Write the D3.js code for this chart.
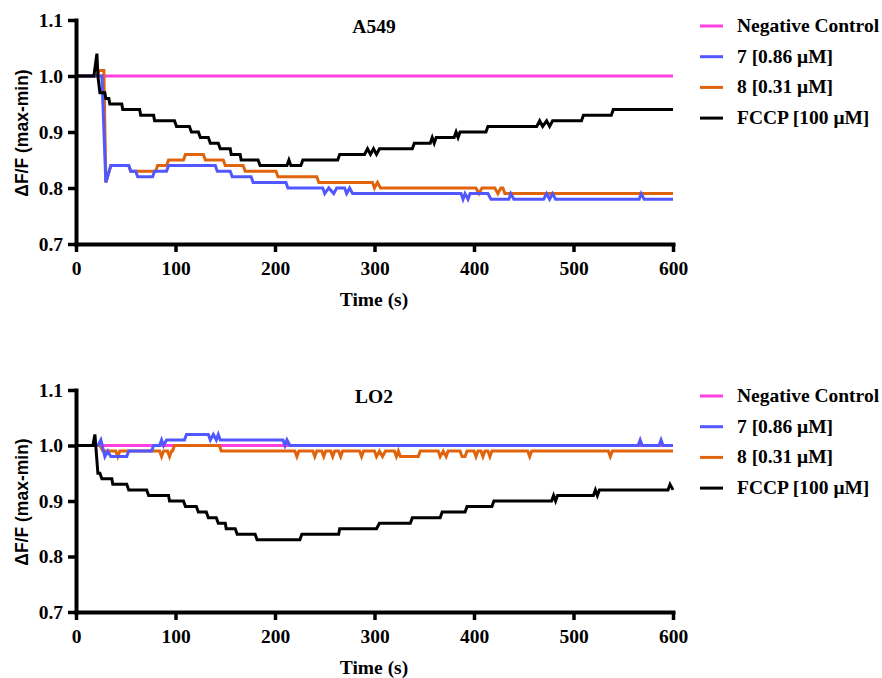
<!DOCTYPE html>
<html lang="en">
<head>
    <meta charset="UTF-8">
    <title>Delta F/F over time - A549 and LO2</title>
    <script src="https://d3js.org/d3.v7.min.js"></script>
    <style>
        body { margin: 0; background: #fff; }
        .tick text, .legend text, .title {
            font-family: "Liberation Serif", "Times New Roman", serif;
            font-weight: bold;
            font-size: 19.5px;
            fill: #000;
        }
        .ylabel {
            font-family: "Liberation Sans", Arial, sans-serif;
            font-weight: bold;
            font-size: 17.5px;
        }
        .series { fill: none; stroke-width: 3; stroke-linejoin: miter; }
    </style>
</head>
<body>
    <svg width="882" height="678"></svg>

    <script>
        // tick values and labels
        const timeTicks = [0, 100, 200, 300, 400, 500, 600];
        const yTicks = [0.7, 0.8, 0.9, 1.0, 1.1];
        const seriesNames = ["Negative Control", "7 [0.86 \u03bcM]", "8 [0.31 \u03bcM]", "FCCP [100 \u03bcM]"];
        const seriesColors = ["#ff40e0", "#5258ff", "#e0640c", "#000000"];

        // A549 panel, [time (s), dF/F]
        const a549Neg = [[0, 1.00], [600, 1.00]];
        const a549C7 = [[0, 1.00], [26, 1.00], [30, 0.81], [35, 0.84], [53, 0.84], [55, 0.83], [60, 0.83], [62, 0.82],
            [77, 0.82], [79, 0.83], [91, 0.83], [93, 0.84], [140, 0.84], [142, 0.83], [155, 0.83], [157, 0.82],
            [176, 0.82], [178, 0.81], [211, 0.81], [213, 0.80], [248, 0.80], [250, 0.79], [254, 0.80], [259, 0.79],
            [262, 0.80], [270, 0.80], [272, 0.79], [275, 0.80], [278, 0.79], [387, 0.79], [389, 0.78], [391, 0.79],
            [394, 0.78], [396, 0.79], [414, 0.79], [417, 0.78], [435, 0.78], [437, 0.79], [440, 0.78], [470, 0.78],
            [473, 0.79], [476, 0.78], [479, 0.79], [482, 0.78], [566, 0.78], [568, 0.79], [571, 0.78], [600, 0.78]];
        const a549C8 = [[0, 1.00], [22, 1.00], [23, 1.01], [28, 1.01], [30, 0.81], [35, 0.84], [53, 0.84], [55, 0.83],
            [80, 0.83], [82, 0.84], [91, 0.84], [93, 0.85], [108, 0.85], [110, 0.86], [128, 0.86], [130, 0.85],
            [148, 0.85], [150, 0.84], [168, 0.84], [170, 0.83], [201, 0.83], [203, 0.82], [242, 0.82], [244, 0.81],
            [298, 0.81], [300, 0.80], [303, 0.81], [306, 0.80], [402, 0.80], [405, 0.79], [408, 0.80], [421, 0.80],
            [424, 0.79], [427, 0.80], [429, 0.80], [431, 0.79], [600, 0.79]];
        const a549FCCP = [[0, 1.00], [18, 1.00], [21, 1.04], [22, 1.00], [24, 0.97], [29, 0.97], [30, 0.96], [33, 0.96],
            [34, 0.95], [46, 0.95], [47, 0.94], [64, 0.94], [65, 0.93], [78, 0.93], [79, 0.92], [99, 0.92], [101, 0.91],
            [114, 0.91], [116, 0.90], [123, 0.90], [125, 0.89], [133, 0.89], [135, 0.88], [143, 0.88], [145, 0.87],
            [155, 0.87], [156, 0.86], [165, 0.86], [166, 0.85], [183, 0.85], [185, 0.84], [212, 0.84], [214, 0.85],
            [216, 0.84], [226, 0.84], [228, 0.85], [263, 0.85], [265, 0.86], [290, 0.86], [293, 0.87], [296, 0.86],
            [299, 0.87], [302, 0.86], [305, 0.87], [338, 0.87], [340, 0.88], [356, 0.88], [358, 0.89], [360, 0.88],
            [362, 0.89], [380, 0.89], [382, 0.90], [384, 0.89], [386, 0.90], [412, 0.90], [414, 0.91], [463, 0.91],
            [466, 0.92], [469, 0.91], [473, 0.92], [476, 0.91], [479, 0.92], [508, 0.92], [510, 0.93], [538, 0.93],
            [540, 0.94], [600, 0.94]];

        // LO2 panel
        const lo2Neg = [[0, 1.00], [600, 1.00]];
        const lo2C7 = [[0, 1.00], [22, 1.00], [25, 1.01], [29, 0.98], [32, 0.99], [35, 0.98], [51, 0.98], [53, 0.99],
            [76, 0.99], [78, 1.00], [84, 1.00], [86, 1.01], [88, 1.00], [91, 1.01], [109, 1.01], [111, 1.02],
            [133, 1.02], [135, 1.01], [138, 1.02], [141, 1.01], [143, 1.02], [145, 1.01], [208, 1.01], [210, 1.00],
            [212, 1.01], [215, 1.00], [565, 1.00], [567, 1.01], [569, 1.00], [586, 1.00], [588, 1.01], [590, 1.00],
            [600, 1.00]];
        const lo2C8 = [[0, 1.00], [24, 1.00], [27, 0.99], [40, 0.99], [42, 0.98], [44, 0.99], [84, 0.99], [86, 0.98],
            [88, 0.99], [92, 0.99], [94, 0.98], [96, 0.99], [97, 0.99], [99, 1.00], [144, 1.00], [146, 0.99],
            [220, 0.99], [222, 0.98], [224, 0.99], [238, 0.99], [240, 0.98], [242, 0.99], [247, 0.99], [249, 0.98],
            [251, 0.99], [256, 0.99], [258, 0.98], [260, 0.99], [264, 0.99], [266, 0.98], [268, 0.99], [285, 0.99],
            [287, 0.98], [289, 0.99], [300, 0.99], [302, 0.98], [305, 0.99], [308, 0.98], [311, 0.99], [320, 0.99],
            [322, 0.98], [324, 0.99], [326, 0.98], [344, 0.98], [346, 0.99], [364, 0.99], [366, 0.98], [369, 0.99],
            [372, 0.98], [374, 0.99], [386, 0.99], [388, 0.98], [391, 0.98], [393, 0.99], [400, 0.99], [402, 0.98],
            [404, 0.99], [407, 0.99], [409, 0.98], [411, 0.99], [414, 0.99], [416, 0.98], [418, 0.99], [454, 0.99],
            [456, 0.98], [458, 0.99], [535, 0.99], [537, 0.98], [539, 0.99], [600, 0.99]];
        const lo2FCCP = [[0, 1.00], [17, 1.00], [19, 1.02], [22, 0.95], [24, 0.95], [26, 0.94], [36, 0.94], [37, 0.93],
            [51, 0.93], [53, 0.92], [71, 0.92], [73, 0.91], [93, 0.91], [94, 0.90], [108, 0.90], [110, 0.89],
            [121, 0.89], [123, 0.88], [131, 0.88], [133, 0.87], [141, 0.87], [143, 0.86], [150, 0.86], [151, 0.85],
            [160, 0.85], [162, 0.84], [180, 0.84], [182, 0.83], [225, 0.83], [227, 0.84], [264, 0.84], [265, 0.85],
            [302, 0.85], [305, 0.86], [336, 0.86], [338, 0.87], [366, 0.87], [368, 0.88], [391, 0.88], [393, 0.89],
            [418, 0.89], [420, 0.90], [478, 0.90], [480, 0.91], [482, 0.90], [484, 0.91], [520, 0.91], [522, 0.92],
            [524, 0.91], [526, 0.92], [595, 0.92], [597, 0.93], [600, 0.92]];

        const svg = d3.select("svg");

        // draws one panel: axes, 4 series, title, legend
        function drawPanel(title, series, top, bottom) {
            const x = d3.scaleLinear().domain([0, 600]).range([76, 673]);
            const y = d3.scaleLinear().domain([0.7, 1.1]).range([bottom, top]);

            const line = d3.line()
                .x(d => x(d[0]))
                .y(d => y(d[1]));

            // draw order: pink, orange, blue, black
            [0, 2, 1, 3].forEach(i => {
                svg.append("path")
                    .datum(series[i])
                    .attr("class", "series")
                    .attr("stroke", seriesColors[i])
                    .attr("d", line);
            });

            const xAxis = svg.append("g")
                .attr("transform", `translate(0, ${bottom})`)
                .call(d3.axisBottom(x).tickValues(timeTicks).tickSize(8).tickSizeOuter(0).tickPadding(9));
            const yAxis = svg.append("g")
                .attr("transform", `translate(76, 0)`)
                .call(d3.axisLeft(y).tickValues(yTicks).tickFormat(d3.format(".1f")).tickSize(8).tickSizeOuter(0).tickPadding(5));

            [xAxis, yAxis].forEach(g => {
                g.select(".domain").attr("stroke-width", 4).attr("stroke-linecap", "square");
                g.selectAll(".tick line").attr("stroke-width", 3.5);
                g.selectAll(".tick text").attr("font-size", null).attr("font-family", null);
            });

            svg.append("text")
                .attr("class", "title")
                .attr("x", 374)
                .attr("y", top + 13)
                .attr("text-anchor", "middle")
                .text(title);

            svg.append("text")
                .attr("class", "ylabel")
                .attr("transform", `translate(28, ${(top + bottom) / 2 + 1}) rotate(-90)`)
                .attr("text-anchor", "middle")
                .text("\u0394F/F (max-min)");

            svg.append("text")
                .attr("class", "title")
                .attr("x", 374)
                .attr("y", bottom + 62)
                .attr("text-anchor", "middle")
                .text("Time (s)");

            const legend = svg.append("g").attr("class", "legend");
            seriesNames.forEach((name, i) => {
                const ly = top + 6 + i * 30.7;
                legend.append("line")
                    .attr("x1", 700).attr("x2", 723)
                    .attr("y1", ly).attr("y2", ly)
                    .attr("stroke", seriesColors[i])
                    .attr("stroke-width", 3);
                legend.append("text")
                    .attr("x", 737)
                    .attr("y", ly + 6)
                    .text(name);
            });
        }

        drawPanel("A549", [a549Neg, a549C7, a549C8, a549FCCP], 20, 244);
        drawPanel("LO2", [lo2Neg, lo2C7, lo2C8, lo2FCCP], 390, 612);
    </script>
</body>
</html>
